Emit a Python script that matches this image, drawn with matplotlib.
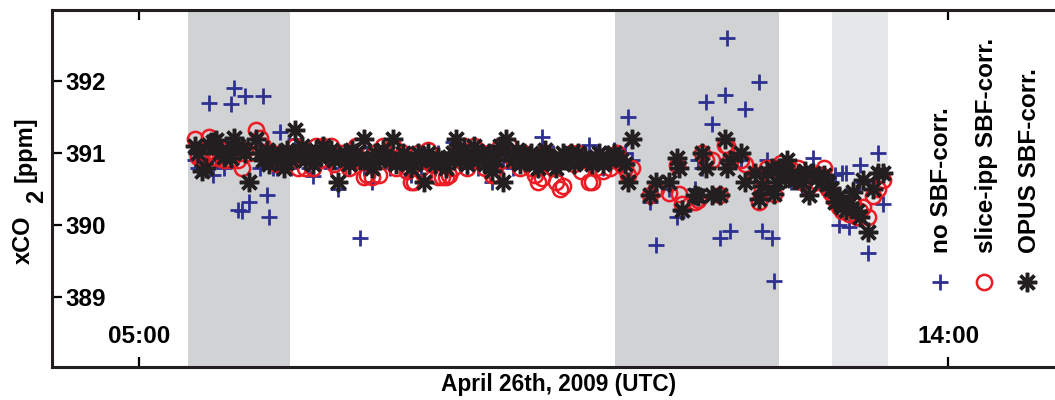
import numpy as np
import matplotlib
matplotlib.use('Agg')
import matplotlib.pyplot as plt
from matplotlib.lines import Line2D

matplotlib.rcParams.update({'font.family': 'Liberation Sans', 'font.weight': 'bold', 'font.size': 16})

# measurement times (hours UTC) and xCO2 for the three processing variants
t_hours = [5.62, 5.66, 5.70, 5.74, 5.78, 5.82, 5.86, 5.90, 5.94, 5.98, 6.02, 6.06, 6.10, 6.14, 6.18, 6.22,
           6.30, 6.34, 6.38, 6.42, 6.45, 6.49, 6.53, 6.57, 6.61, 6.65, 6.69, 6.73, 6.77, 6.81, 6.85, 6.89,
           6.93, 6.97, 7.01, 7.05, 7.09, 7.13, 7.17, 7.21, 7.25, 7.29, 7.33, 7.37, 7.41, 7.46, 7.50, 7.54,
           7.59, 7.63, 7.67, 7.71, 7.75, 7.79, 7.82, 7.86, 7.90, 7.94, 7.98, 8.02, 8.06, 8.10, 8.14, 8.17,
           8.21, 8.25, 8.29, 8.33, 8.37, 8.41, 8.45, 8.49, 8.53, 8.57, 8.61, 8.65, 8.69, 8.73, 8.77, 8.81,
           8.85, 8.89, 8.93, 8.97, 9.01, 9.05, 9.08, 9.12, 9.16, 9.20, 9.24, 9.28, 9.32, 9.36, 9.40, 9.44,
           9.48, 9.52, 9.56, 9.60, 9.64, 9.68, 9.72, 9.76, 9.80, 9.84, 9.88, 9.92, 9.96, 10.00, 10.04, 10.08,
           10.12, 10.16, 10.20, 10.24, 10.28, 10.32, 10.36, 10.40, 10.44, 10.48,
           10.68, 10.75, 10.90, 10.98, 11.01, 11.04, 11.18, 11.22, 11.26, 11.31, 11.37, 11.46, 11.52, 11.54,
           11.57, 11.69, 11.74, 11.85, 11.90, 11.93, 11.98, 12.04, 12.06, 12.10,
           12.14, 12.18, 12.21, 12.25, 12.29, 12.33, 12.37, 12.41, 12.45, 12.50, 12.54, 12.58, 12.62, 12.66,
           12.70, 12.74, 12.78, 12.82, 12.86, 12.90, 12.94, 12.98, 13.02, 13.05, 13.11, 13.16, 13.22, 13.27]

no_corr = [390.9, 390.8, 390.8, 391.0, 391.7, 390.7, 390.9, 391.0, 390.8, 391.1, 391.69, 391.9, 390.21, 390.2, 391.8, 390.32,
           391.2, 390.8, 391.8, 390.42, 390.11, 390.8, 390.8, 391.3, 390.9, 391.0, 390.8, 391.2, 390.9, 391.0, 390.9, 390.8,
           390.69, 391.0, 390.9, 391.0, 390.9, 390.8, 390.9, 390.51, 390.9, 391.0, 390.8, 391.0, 390.9, 389.82, 390.8, 391.0,
           390.6, 390.9, 391.0, 391.1, 390.9, 390.8, 391.0, 390.9, 390.8, 391.0, 390.9, 390.7, 390.9, 391.0, 390.8, 390.6,
           391.0, 390.9, 390.8, 391.0, 390.9, 390.8, 390.9, 391.15, 391.0, 390.9, 391.0, 390.8, 390.9, 391.0, 390.8, 391.0,
           390.9, 391.0, 390.6, 390.8, 391.0, 390.9, 391.1, 390.9, 390.8, 391.0, 390.9, 391.0, 390.85, 391.0, 390.9, 390.8,
           391.22, 391.0, 390.9, 391.0, 390.8, 390.9, 391.0, 390.9, 391.0, 390.85, 391.0, 390.9, 391.0, 391.11, 390.9, 391.0,
           390.9, 390.8, 391.0, 390.9, 391.04, 391.0, 390.9, 391.0, 391.5, 390.9,
           390.32, 389.72, 390.5, 390.11, 390.8, 390.2, 390.51, 390.9, 390.8, 391.71, 391.4, 389.82, 391.81, 392.6,
           389.92, 390.9, 391.61, 390.7, 391.99, 389.92, 390.9, 389.82, 389.22, 390.7,
           390.8, 390.7, 390.8, 390.6, 390.7, 390.6, 390.55, 390.7, 390.6, 390.93, 390.65, 390.7, 390.5, 390.5,
           390.6, 390.7, 390.0, 390.72, 390.72, 389.97, 390.5, 390.2, 390.83, 390.6, 389.61, 390.5, 391.0, 390.3]

slice_corr = [391.2, 390.95, 390.9, 391.0, 391.22, 390.95, 390.93, 391.0, 390.9, 391.05, 390.9, 391.0, 390.9, 390.8, 391.04, 391.0,
              391.32, 391.21, 391.1, 391.0, 390.9, 391.0, 390.85, 390.95, 390.85, 391.0, 390.9, 391.1, 390.8, 391.05, 390.8, 391.0,
              390.8, 391.1, 390.9, 391.1, 391.0, 391.1, 390.85, 390.75, 391.0, 390.9, 390.8, 391.0, 391.1, 390.9, 390.67, 390.7,
              390.67, 391.0, 390.7, 391.1, 391.0, 390.9, 391.1, 390.8, 390.9, 391.0, 390.75, 390.6, 390.6, 391.0, 390.8, 390.7,
              391.05, 390.85, 390.9, 390.67, 390.67, 390.67, 390.7, 390.8, 391.0, 390.9, 391.1, 390.8, 391.0, 391.1, 390.9, 391.0,
              390.8, 391.0, 390.7, 390.7, 391.1, 390.9, 391.0, 391.1, 390.9, 391.0, 390.8, 391.0, 390.9, 390.8, 390.7, 390.6,
              390.65, 391.0, 390.9, 390.8, 390.6, 390.51, 390.55, 390.9, 391.0, 390.85, 391.0, 390.75, 390.9, 390.6, 390.6, 390.8,
              390.9, 390.75, 390.9, 390.8, 390.9, 391.0, 390.85, 390.8, 390.7, 390.8,
              390.42, 390.5, 390.45, 390.83, 390.44, 390.3, 390.32, 390.35, 391.01, 390.9, 390.9, 390.42, 391.11, 391.1,
              390.9, 390.9, 390.85, 390.7, 390.32, 390.5, 390.8, 390.6, 390.44, 390.8,
              390.86, 390.7, 390.8, 390.7, 390.75, 390.79, 390.6, 390.7, 390.55, 390.7, 390.6, 390.7, 390.8, 390.5,
              390.45, 390.35, 390.25, 390.2, 390.3, 390.15, 390.3, 390.11, 390.2, 390.25, 390.11, 390.4, 390.51, 390.63]

opus_corr = [391.1, 391.0, 390.75, 390.8, 391.11, 391.15, 391.18, 391.0, 390.95, 391.04, 390.94, 391.21, 391.1, 391.07, 391.0, 390.6,
             391.2, 391.0, 390.9, 391.05, 390.85, 391.0, 390.9, 391.0, 390.8, 391.05, 390.9, 391.32, 391.0, 391.1, 390.9, 391.0,
             390.85, 391.05, 390.95, 391.1, 391.0, 391.05, 390.9, 390.6, 390.95, 391.0, 390.85, 391.05, 391.0, 390.9, 391.2, 390.9,
             390.8, 391.0, 390.9, 391.05, 390.95, 390.9, 391.2, 390.85, 390.9, 391.0, 390.9, 390.8, 390.85, 391.0, 390.9, 390.6,
             391.0, 390.9, 390.85, 390.95, 390.9, 390.8, 390.9, 391.0, 391.2, 390.9, 391.05, 390.85, 390.95, 391.1, 390.9, 391.0,
             390.85, 391.0, 390.75, 390.9, 391.1, 390.6, 391.2, 391.0, 390.9, 391.05, 390.85, 391.0, 390.9, 391.0, 390.85, 390.8,
             390.9, 391.05, 390.95, 390.85, 390.8, 390.9, 391.0, 390.9, 391.0, 390.85, 391.0, 390.9, 390.95, 390.9, 390.85, 390.9,
             391.0, 390.85, 390.95, 390.9, 391.0, 390.95, 390.9, 390.85, 390.6, 391.2,
             390.42, 390.6, 390.6, 390.93, 390.79, 390.21, 390.42, 390.4, 391.01, 390.8, 390.42, 390.42, 391.2, 390.8,
             390.9, 391.01, 390.6, 390.72, 390.37, 390.55, 390.72, 390.8, 390.44, 390.6,
             390.8, 390.65, 390.9, 390.7, 390.63, 390.7, 390.6, 390.75, 390.42, 390.72, 390.65, 390.6, 390.7, 390.58,
             390.5, 390.32, 390.4, 390.25, 390.21, 390.3, 390.46, 390.2, 390.11, 390.63, 389.9, 390.5, 390.72, 390.72]

# shaded periods (start, end in hours) and their grey
shade_spans = [(5.545, 6.68), (10.295, 12.12), (12.71, 13.33)]
shade_colors = ['#d1d2d4', '#d1d2d4', '#e6e7e8']

tick_hours = [5, 14]
tick_names = ['05:00', '14:00']
labels = ['no SBF-corr.', 'slice-ipp SBF-corr.', 'OPUS SBF-corr.']

c_blue, c_red, c_black = '#2e3192', '#ed1c24', '#231f20'
fz = 17.5

##################################################################
fig = plt.figure(figsize=(10.55, 4.0), dpi=100)
ax = fig.add_axes([52/1055, 33/400, (1066-52)/1055, 357/400])

for (a, b), c in zip(shade_spans, shade_colors):
    ax.axvspan(a, b, color=c, lw=0, zorder=0)

st_blue = dict(marker='+', ls='none', color=c_blue, ms=12, mew=2.0)
st_red = dict(marker='o', ls='none', mfc='none', mec=c_red, ms=11, mew=1.8)
st_black = dict(marker=(8, 2, 0), ls='none', color=c_black, ms=14, mew=2.5)

ax.plot(t_hours, no_corr, zorder=2, **st_blue)
ax.plot(t_hours, slice_corr, zorder=3, **st_red)
ax.plot(t_hours, opus_corr, zorder=4, **st_black)

ax.set_xlim(4.032, 15.31)
ax.set_ylim(388.03, 392.99)
ax.set_xticks(tick_hours)
ax.set_xticklabels(tick_names)
ax.set_yticks([389, 390, 391, 392])

ax.spines['right'].set_visible(False)
for s in ['left', 'top', 'bottom']:
    ax.spines[s].set_linewidth(2.2)
    ax.spines[s].set_color('#231f20')

ax.tick_params(axis='x', direction='in', length=7, width=1.6, top=True, pad=-14, labelsize=fz)
ax.tick_params(axis='y', direction='in', length=7, width=1.6, pad=-9.4, labelsize=fz)
for lab in ax.get_xticklabels():
    lab.set_va('bottom')
for lab in ax.get_yticklabels():
    lab.set_ha('left')

fig.text(559/1055, 1 - 385/400, 'April 26th, 2009 (UTC)', ha='center', va='center', fontsize=16.3)

# y label drawn piecewise (subscript 2 offset towards the axis)
fig.text(23/1055, 1 - 264/400, 'xCO', rotation=90, ha='center', va='bottom', fontsize=17)
fig.text(37/1055, 1 - 203/400, '2', rotation=90, ha='center', va='bottom', fontsize=17)
fig.text(25/1055, 1 - 182/400, '[ppm]', rotation=90, ha='center', va='bottom', fontsize=17)

# vertical legend on the right
leg_x = [942, 986, 1029]
for x, lab, st in zip(leg_x, labels, [st_blue, st_red, st_black]):
    fig.text(x/1055, 1 - 253/400, lab, rotation=90, ha='center', va='bottom', fontsize=fz)
    fig.add_artist(Line2D([(x - 2)/1055], [1 - 282/400], transform=fig.transFigure, **st))

assert len(t_hours) == len(no_corr) == len(slice_corr) == len(opus_corr)
fig.savefig('out.png', dpi=100)
